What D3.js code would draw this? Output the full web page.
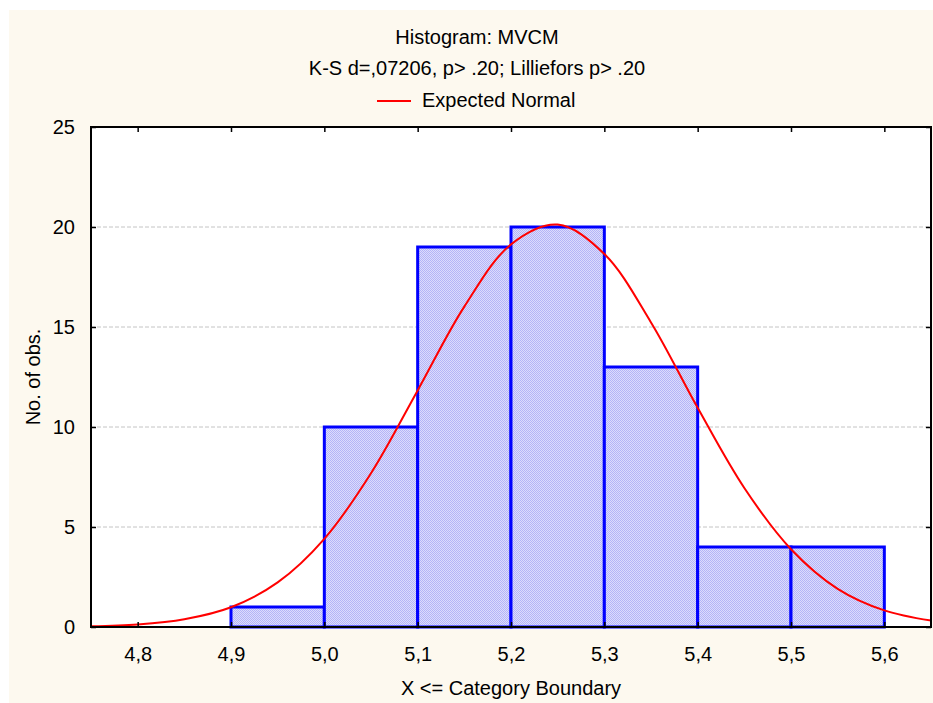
<!DOCTYPE html>
<meta charset="utf-8">
<script src="https://d3js.org/d3.v7.min.js"></script>
<style>
  body { margin: 0; background: #fff; }
  text { font-family: "Liberation Sans", Arial, sans-serif; fill: #000; }
</style>
<body>
<div id="chart"></div>
<script>
// histogram bins (lower boundary, upper boundary, count)
var binLo = [4.9, 5.0, 5.1, 5.2, 5.3, 5.4, 5.5];
var binHi = [5.0, 5.1, 5.2, 5.3, 5.4, 5.5, 5.6];
var counts = [1, 10, 19, 20, 13, 4, 4];

// expected normal curve
var curveX = [4.75, 4.80, 4.85, 4.90, 4.95, 5.00, 5.05, 5.10, 5.15, 5.20,
              5.25, 5.30, 5.35, 5.40, 5.45, 5.50, 5.55, 5.60, 5.65];
var curveY = [0.04, 0.13, 0.39, 0.99, 2.23, 4.41, 7.69, 11.83, 16.02, 19.13,
              20.12, 18.65, 15.23, 10.96, 6.95, 3.89, 1.91, 0.83, 0.32];

var xTicks = [4.8, 4.9, 5.0, 5.1, 5.2, 5.3, 5.4, 5.5, 5.6];
var yTicks = [0, 5, 10, 15, 20, 25];

var W = 933, H = 703;
var margin = {top: 127, right: 2, bottom: 76, left: 91},
    width = W - margin.left - margin.right,
    height = H - margin.top - margin.bottom;

var svg = d3.select("#chart").append("svg")
    .attr("width", W)
    .attr("height", H);

// cream page
svg.append("rect")
  .attr("x", 9).attr("y", 10)
  .attr("width", W - 9).attr("height", H - 10)
  .attr("fill", "#fdf9ef");

// checker pattern for bars
var defs = svg.append("defs");
var pat = defs.append("pattern")
  .attr("id", "chk")
  .attr("width", 2).attr("height", 2)
  .attr("patternUnits", "userSpaceOnUse");
pat.append("rect").attr("width", 2).attr("height", 2).attr("fill", "#dcdcfc");
pat.append("rect").attr("width", 1).attr("height", 1).attr("fill", "#b4b4f7");
pat.append("rect").attr("x", 1).attr("y", 1).attr("width", 1).attr("height", 1).attr("fill", "#b4b4f7");

var g = svg.append("g")
  .attr("transform", "translate(" + margin.left + "," + margin.top + ")");

var x = d3.scaleLinear().domain([4.75, 5.65]).range([0, width]);
var y = d3.scaleLinear().domain([0, 25]).range([height, 0]);
var fmt = function(d) { return d3.format(".1f")(d).replace(".", ","); };

// plot background
g.append("rect")
  .attr("width", width).attr("height", height)
  .attr("fill", "#fff");

// gridlines
g.append("g")
  .selectAll("line")
  .data(yTicks.filter(function(d) { return d > 0 && d < 25; }))
  .enter().append("line")
    .attr("x1", 0).attr("x2", width)
    .attr("y1", function(d) { return y(d); })
    .attr("y2", function(d) { return y(d); })
    .attr("stroke", "#c4c4c4")
    .attr("stroke-dasharray", "4,2");

// bars
g.append("g")
  .selectAll("rect")
  .data(counts)
  .enter().append("rect")
    .attr("x", function(d, i) { return x(binLo[i]); })
    .attr("y", function(d) { return y(d); })
    .attr("width", function(d, i) { return x(binHi[i]) - x(binLo[i]); })
    .attr("height", function(d) { return height - y(d); })
    .attr("fill", "url(#chk)")
    .attr("stroke", "#0000ff")
    .attr("stroke-width", 3);

// expected normal
var pts = curveX.map(function(v, i) { return [v, curveY[i]]; });
g.append("path")
  .datum(pts)
  .attr("fill", "none")
  .attr("stroke", "#ff0000")
  .attr("stroke-width", 2)
  .attr("d", d3.line()
    .x(function(d) { return x(d[0]); })
    .y(function(d) { return y(d[1]); })
    .curve(d3.curveCatmullRom));

// axes, ticks pointing inward on all four sides
var axB = g.append("g")
  .attr("transform", "translate(0," + height + ")")
  .call(d3.axisBottom(x).tickValues(xTicks).tickSizeInner(-5).tickSizeOuter(0).tickPadding(20).tickFormat(fmt));
var axT = g.append("g")
  .call(d3.axisTop(x).tickValues(xTicks).tickSizeInner(-5).tickSizeOuter(0).tickFormat(""));
var axL = g.append("g")
  .call(d3.axisLeft(y).tickValues(yTicks).tickSizeInner(-5).tickSizeOuter(0).tickPadding(16));
var axR = g.append("g")
  .attr("transform", "translate(" + width + ",0)")
  .call(d3.axisRight(y).tickValues(yTicks).tickSizeInner(-5).tickSizeOuter(0).tickFormat(""));

[axB, axT, axL, axR].forEach(function(a) {
  a.select(".domain").remove();
  a.selectAll("line").attr("stroke", "#000").attr("stroke-width", 1.5);
  a.selectAll("text").style("font-size", "20px").attr("fill", "#000")
    .style("font-family", "'Liberation Sans', Arial, sans-serif");
});

// frame
g.append("rect")
  .attr("width", width).attr("height", height)
  .attr("fill", "none")
  .attr("stroke", "#000")
  .attr("stroke-width", 2);

// titles
svg.append("text")
  .attr("x", 477).attr("y", 44)
  .attr("text-anchor", "middle")
  .style("font-size", "20px")
  .text("Histogram: MVCM");
svg.append("text")
  .attr("x", 477).attr("y", 75)
  .attr("text-anchor", "middle")
  .style("font-size", "20px")
  .text("K-S d=,07206, p> .20; Lilliefors p> .20");

// legend
svg.append("line")
  .attr("x1", 377).attr("x2", 411)
  .attr("y1", 101).attr("y2", 101)
  .attr("stroke", "#ff0000").attr("stroke-width", 2);
svg.append("text")
  .attr("x", 422).attr("y", 107)
  .style("font-size", "20px")
  .text("Expected Normal");

// axis labels
svg.append("text")
  .attr("x", margin.left + width / 2).attr("y", 695)
  .attr("text-anchor", "middle")
  .style("font-size", "20px")
  .text("X <= Category Boundary");
svg.append("text")
  .attr("transform", "translate(40," + (margin.top + height / 2) + ") rotate(-90)")
  .attr("text-anchor", "middle")
  .style("font-size", "20px")
  .text("No. of obs.");
</script>
</body>
